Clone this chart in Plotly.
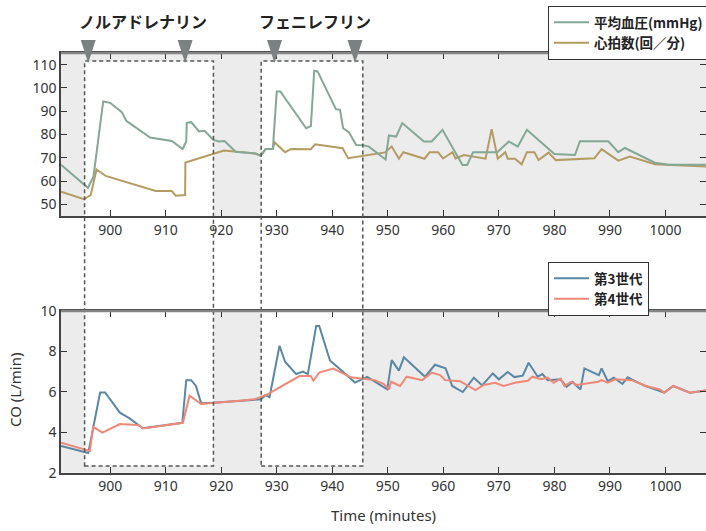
import plotly.graph_objects as go

# ---------------- data ----------------
map_t = [891.15, 896.0, 897.0, 898.75, 900.0, 901.0, 902.1, 902.9, 907.2, 911.1, 913.05, 913.7, 913.8,
         914.6, 916.0, 917.0, 918.6, 919.6, 920.6, 922.6, 926.15, 927.1, 928.0, 929.3, 930.0, 930.65,
         935.3, 936.15, 936.75, 937.35, 940.65, 941.4, 941.95, 943.0, 944.3, 945.55, 946.6, 949.6,
         950.2, 951.5, 952.6, 956.5, 957.9, 959.85, 963.45, 964.3, 965.35, 969.7, 971.8, 973.4,
         975.05, 980.0, 983.7, 984.6, 989.7, 991.5, 992.7, 998.1, 1000.5, 1008.0]
map_v = [67.0, 57.1, 61.9, 94.2, 93.6, 91.6, 89.6, 85.9, 78.7, 77.2, 73.8, 77.0, 85.0,
         85.3, 81.3, 81.6, 77.7, 77.0, 77.2, 72.6, 71.8, 70.9, 73.8, 73.8, 98.5, 98.5,
         82.7, 83.6, 107.4, 107.1, 90.9, 90.6, 82.7, 81.0, 75.5, 75.4, 74.8, 69.3,
         79.6, 79.1, 84.9, 77.0, 77.0, 82.0, 66.9, 66.9, 72.4, 72.4, 77.0, 74.8,
         82.0, 71.6, 71.2, 77.1, 77.1, 72.4, 74.2, 67.9, 67.0, 67.0]

hr_t = [891.15, 895.3, 896.5, 897.55, 899.2, 908.2, 911.1, 911.8, 913.5, 913.55, 920.5, 922.6,
        926.15, 927.1, 928.0, 929.3, 929.6, 931.5, 932.6, 936.15, 936.9, 941.85, 942.85, 949.5,
        950.7, 952.0, 952.8, 956.6, 957.55, 959.05, 959.95, 961.65, 962.2, 963.7, 967.6, 968.7,
        969.8, 971.15, 971.6, 972.9, 974.1, 975.05, 976.4, 977.15, 978.95, 980.25, 987.2, 988.5,
        991.5, 993.6, 998.1, 1008.0]
hr_v = [55.4, 52.2, 54.0, 65.0, 62.2, 55.7, 55.7, 53.7, 54.0, 68.0, 73.1, 72.6,
        71.8, 70.9, 73.8, 73.8, 76.7, 72.4, 73.8, 73.7, 75.8, 74.1, 69.8, 72.3,
        74.8, 69.6, 72.4, 69.6, 72.4, 72.4, 69.7, 72.4, 69.7, 71.2, 69.6, 82.3,
        69.6, 72.4, 69.6, 69.6, 67.2, 72.4, 72.4, 69.0, 72.2, 69.0, 69.8, 73.7,
        68.8, 70.5, 67.2, 66.2]

gen3_t = [891.15, 896.05, 898.2, 899.1, 901.75, 903.5, 905.9, 913.0, 913.7, 914.6, 915.45, 916.4,
          918.5, 926.0, 927.2, 928.0, 928.7, 930.5, 931.5, 933.5, 934.7, 935.6, 937.1, 937.65,
          939.6, 940.9, 944.1, 946.3, 947.2, 949.9, 950.7, 952.0, 952.9, 956.7, 958.5, 960.4,
          961.6, 963.5, 965.5, 967.0, 968.9, 970.0, 971.6, 972.8, 974.3, 975.35, 977.0, 977.85,
          978.8, 981.1, 982.2, 983.25, 984.7, 985.4, 988.0, 988.5, 989.6, 990.7, 992.25, 993.2,
          993.9, 996.3, 999.8, 1001.4, 1004.4, 1008.0]
gen3_v = [3.32, 2.97, 5.97, 5.97, 4.97, 4.69, 4.20, 4.47, 6.58, 6.58, 6.29, 5.43,
          5.46, 5.59, 5.63, 5.84, 5.73, 8.28, 7.49, 6.88, 7.00, 6.88, 9.26, 9.26,
          7.54, 7.24, 6.46, 6.74, 6.58, 6.12, 7.57, 7.05, 7.71, 6.75, 7.34, 7.16,
          6.29, 5.99, 6.70, 6.32, 6.91, 6.62, 6.98, 6.73, 6.80, 7.44, 6.75, 6.88,
          6.58, 6.62, 6.25, 6.49, 6.12, 7.16, 6.83, 7.16, 6.53, 6.70, 6.39, 6.72,
          6.62, 6.30, 5.96, 6.29, 5.96, 6.09]

gen4_t = [891.15, 896.35, 896.95, 898.6, 901.75, 905.0, 905.9, 913.1, 914.3, 916.4, 923.3, 926.0,
          928.4, 934.1, 936.15, 936.6, 937.65, 940.2, 943.35, 945.4, 947.65, 949.3, 950.2, 950.6,
          952.2, 953.4, 956.2, 957.9, 959.4, 960.35, 963.0, 965.8, 967.25, 969.35, 970.85, 972.9,
          975.2, 976.05, 977.6, 978.75, 979.85, 981.15, 981.8, 983.0, 984.0, 987.9, 988.5, 989.6,
          990.9, 993.9, 996.5, 999.0, 999.8, 1001.4, 1004.4, 1008.0]
gen4_v = [3.48, 3.08, 4.27, 3.98, 4.41, 4.36, 4.19, 4.47, 5.81, 5.40, 5.56, 5.63,
          5.89, 6.78, 6.78, 6.55, 6.95, 7.15, 6.72, 6.65, 6.58, 6.39, 6.12, 6.50,
          6.29, 6.75, 6.58, 6.95, 6.83, 6.58, 6.53, 6.09, 6.34, 6.45, 6.29, 6.45,
          6.55, 6.75, 6.63, 6.70, 6.45, 6.65, 6.29, 6.49, 6.34, 6.50, 6.58, 6.45,
          6.62, 6.58, 6.29, 6.12, 5.96, 6.29, 5.96, 6.09]

x_ticks = [900, 910, 920, 930, 940, 950, 960, 970, 980, 990, 1000]
top_ticks = [50, 60, 70, 80, 90, 100, 110]
bot_ticks = [2, 4, 6, 8, 10]

drug_names = ["ノルアドレナリン", "フェニレフリン"]
drug_windows = [(895.4, 918.6), (927.2, 945.5)]
drug_label_x = [905.9, 936.9]
event_marks = [896.05, 913.5, 929.6, 944.1]

series_names = ["平均血圧(mmHg)", "心拍数(回／分)", "第3世代", "第4世代"]

# ---------------- figure ----------------
W, H = 706, 531
def py(p):  # pixel row -> paper y
    return (H - p) / H

C_MAP = "#84a796"
C_HR = "#b49b62"
C_G3 = "#5a87a4"
C_G4 = "#ef8877"

fig = go.Figure()
fig.add_trace(go.Scatter(x=hr_t, y=hr_v, mode="lines", name=series_names[1],
                         line=dict(color=C_HR, width=2), xaxis="x", yaxis="y",
                         legend="legend", legendrank=2))
fig.add_trace(go.Scatter(x=map_t, y=map_v, mode="lines", name=series_names[0],
                         line=dict(color=C_MAP, width=2), xaxis="x", yaxis="y",
                         legend="legend", legendrank=1))
fig.add_trace(go.Scatter(x=gen3_t, y=gen3_v, mode="lines", name=series_names[2],
                         line=dict(color=C_G3, width=2), xaxis="x2", yaxis="y2",
                         legend="legend2", legendrank=1))
fig.add_trace(go.Scatter(x=gen4_t, y=gen4_v, mode="lines", name=series_names[3],
                         line=dict(color=C_G4, width=2), xaxis="x2", yaxis="y2",
                         legend="legend2", legendrank=2))

top_dom = [py(216), py(53)]
bot_dom = [py(472.7), py(311)]
xr = [891.15, 1007.3]
tickfont = dict(family="Noto Sans, Open Sans, sans-serif", size=14, color="#333")
axcommon = dict(showgrid=False, zeroline=False, showline=True, linecolor="#444",
                linewidth=1.5, ticks="inside", ticklen=6, tickcolor="#333", tickwidth=1,
                mirror="ticks", tickfont=tickfont, automargin=False)

legfont = dict(family="Noto Sans CJK JP", size=13.5, color="#222", weight="bold")
fig.update_layout(
    width=W, height=H,
    margin=dict(l=61, r=0, t=0, b=0, autoexpand=False),
    paper_bgcolor="white", plot_bgcolor="#ebeceb",
    font=dict(family="Noto Sans, Noto Sans CJK JP, sans-serif", color="#222"),
    xaxis=dict(domain=[0, 1], anchor="y", range=xr, tickvals=x_ticks, **axcommon),
    yaxis=dict(domain=top_dom, anchor="x", range=[45, 115], tickvals=top_ticks, **axcommon),
    xaxis2=dict(domain=[0, 1], anchor="y2", range=xr, tickvals=x_ticks, **axcommon),
    yaxis2=dict(domain=bot_dom, anchor="x2", range=[2, 10], tickvals=bot_ticks, **axcommon),
    legend=dict(x=(548 - 61) / 645, y=py(6), xanchor="left", yanchor="top",
                bgcolor="white", bordercolor="#333", borderwidth=1, itemwidth=35,
                font=legfont, tracegroupgap=0),
    legend2=dict(x=(548 - 61) / 645, y=py(262), xanchor="left", yanchor="top",
                 bgcolor="white", bordercolor="#333", borderwidth=1, itemwidth=35,
                 font=legfont, tracegroupgap=0),
    showlegend=True,
)

shapes = []
top_white_y1 = (py(61) - top_dom[0]) / (top_dom[1] - top_dom[0])
bot_white_y0 = (py(466) - bot_dom[0]) / (bot_dom[1] - bot_dom[0])
for (a, b) in drug_windows:
    shapes.append(dict(type="rect", xref="x", yref="y domain", x0=a, x1=b, y0=0, y1=top_white_y1,
                       fillcolor="white", line=dict(width=0), layer="below"))
    shapes.append(dict(type="rect", xref="x2", yref="y2 domain", x0=a, x1=b, y0=bot_white_y0, y1=1,
                       fillcolor="white", line=dict(width=0), layer="below"))
    shapes.append(dict(type="rect", xref="x", yref="paper", x0=a, x1=b, y0=py(466), y1=py(61),
                       fillcolor="rgba(0,0,0,0)", line=dict(color="#555", width=1.5, dash="4px,3px"),
                       layer="above"))
for xd, yd in (("x domain", "y domain"), ("x2 domain", "y2 domain")):
    shapes.append(dict(type="line", xref=xd, yref=yd, x0=0, x1=1, y0=1, y1=1,
                       line=dict(color="#858585", width=2.5), layer="above"))
hw = 7.5 / 5.57
for t in event_marks:
    path = f"M {t-hw},{py(40)} L {t+hw},{py(40)} L {t},{py(63)} Z"
    shapes.append(dict(type="path", xref="x", yref="paper", path=path,
                       fillcolor="#7b8180", line=dict(width=0), layer="above"))
fig.update_layout(shapes=shapes)

annos = []
for name, xc in zip(drug_names, drug_label_x):
    annos.append(dict(text=name, x=xc, xref="x", y=py(21), yref="paper", showarrow=False,
                      xanchor="center", yanchor="middle",
                      font=dict(family="Noto Sans CJK JP", size=16, color="#222", weight="bold")))
annos.append(dict(text="CO (L/min)", x=(15 - 61) / 645, xref="paper", y=py(390), yref="paper",
                  showarrow=False, textangle=-90, xanchor="center", yanchor="middle",
                  font=dict(family="Noto Sans, sans-serif", size=15, color="#333")))
annos.append(dict(text="Time (minutes)", x=(383 - 61) / 645, xref="paper", y=py(515), yref="paper",
                  showarrow=False, xanchor="center", yanchor="middle",
                  font=dict(family="Noto Sans, sans-serif", size=15, color="#333")))
fig.update_layout(annotations=annos)

fig.write_html("out.html", config={"displayModeBar": False},
               post_script="document.body.style.margin='0';document.body.style.overflow='hidden';")
